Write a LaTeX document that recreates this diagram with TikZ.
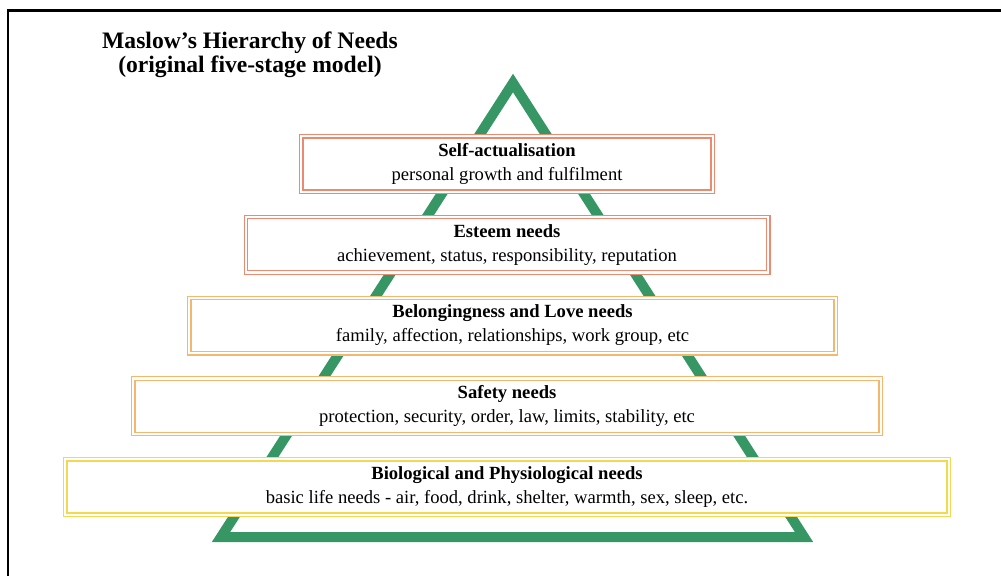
\documentclass[tikz,border=0pt]{standalone}
\usepackage{fontspec}
\setmainfont{Liberation Serif}
\usepackage{xcolor}
\usepackage{tikz}
\usetikzlibrary{
    positioning,
    calc
}
\definecolor{pyramidgreen}{RGB}{54,150,100}
\definecolor{tierred}{RGB}{234,138,112}
\definecolor{tierorange}{RGB}{245,182,110}
\definecolor{tieryellow}{RGB}{243,216,80}
\tikzset{
  basic/.style = {
      rectangle,
      fill=white,
      align=center,
      outer sep=0pt,
      inner sep=2pt,
      font=\fontsize{18.6}{24}\selectfont
  },
  tier/.style = {
      basic,
      draw=#1,
      line width=1.2pt,
      double=white,
      double distance=2.2pt,
      minimum height=55.4pt
  },
  pyramid/.style = {
      draw=pyramidgreen,
      line width=10pt,
      line join=miter
  },
  frame/.style = {
      draw=black,
      line width=2.2pt
  },
  heading/.style = {
      font=\fontsize{23.6}{23.5}\selectfont\bfseries,
      align=center
  }
}

\begin{document}
\begin{tikzpicture}[x=1pt, y=-1pt, node distance=25.35pt]
        \useasboundingbox (0,0) rectangle (1001,576);
        % Frame
        \draw[frame] (1001,10.5) -- (8,10.5) -- (8,576);
        % Pyramid
        \coordinate (apex) at (513,83);
        \coordinate (baseL) at (221,537);
        \coordinate (baseR) at (804,537);
        \draw[pyramid] (apex) -- (baseL) -- (baseR) -- cycle;
        % Title
        \node[heading] (title) at (250,55) {Maslow's Hierarchy of Needs\\(original five-stage model)};
        % Tiers
        \node[tier=tierred, minimum width=411.4pt] (self) at (507,164)
            {\textbf{Self-actualisation}\\personal growth and fulfilment};
        \node[tier=tierred, minimum width=522.4pt, below=of self] (esteem)
            {\textbf{Esteem needs}\\achievement, status, responsibility, reputation};
        \node[tier=tierorange, minimum width=646.4pt, below=of esteem, xshift=5.5pt] (love)
            {\textbf{Belongingness and Love needs}\\family, affection, relationships, work group, etc};
        \node[tier=tierorange, minimum width=747.4pt, below=of love, xshift=-5.5pt] (safety)
            {\textbf{Safety needs}\\protection, security, order, law, limits, stability, etc};
        \node[tier=tieryellow, minimum width=883.4pt, below=of safety] (bio)
            {\textbf{Biological and Physiological needs}\\basic life needs - air, food, drink, shelter, warmth, sex, sleep, etc.};
    \end{tikzpicture}
\end{document}
